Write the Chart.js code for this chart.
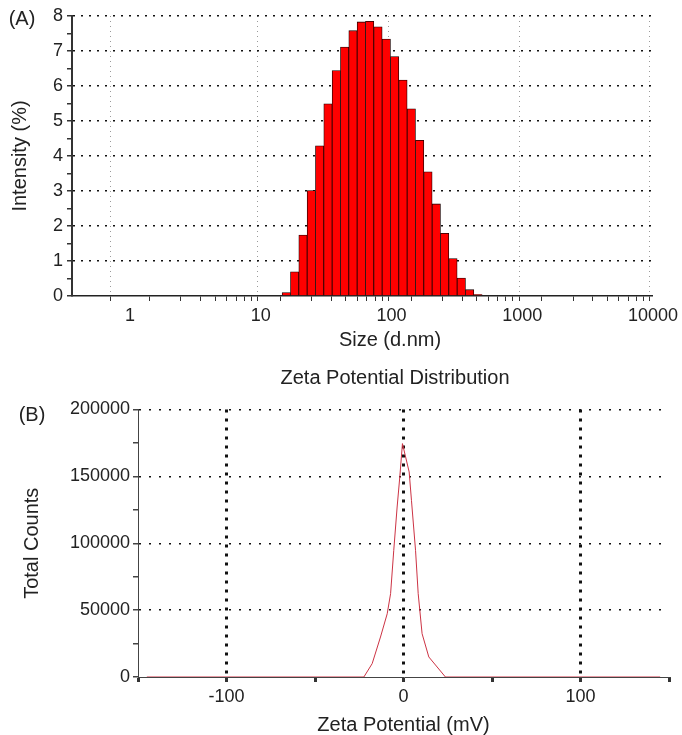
<!DOCTYPE html>
<html>
<head>
<meta charset="utf-8">
<script src="https://cdn.jsdelivr.net/npm/chart.js@4.4.0/dist/chart.umd.min.js"></script>
<style>
  body { margin: 0; background: #fff; overflow: hidden; }
  canvas { position: absolute; left: 0; }
</style>
</head>
<body>
<canvas id="chartA" width="682" height="356" style="top:0"></canvas>
<canvas id="chartB" width="682" height="390" style="top:352px"></canvas>
<script>
// (A) size distribution by intensity
var sizes = [15.69, 18.17, 21.04, 24.36, 28.21, 32.67, 37.84, 43.82, 50.75, 58.77, 68.06, 78.82,
             91.28, 105.7, 122.4, 141.8, 164.2, 190.1, 220.2, 255.0, 295.3, 342.0, 396.1, 458.7];
var intensity = [0.1, 0.69, 1.74, 3.01, 4.29, 5.49, 6.44, 7.11, 7.58, 7.83, 7.85, 7.69,
                 7.34, 6.84, 6.17, 5.35, 4.45, 3.55, 2.63, 1.79, 1.07, 0.51, 0.18, 0.04];
var sizeLabels = [1, 10, 100, 1000, 10000];
var sizeTicks = [];
[1, 10, 100, 1000].forEach(function (d) {
  for (var k = 1; k < 10; k++) sizeTicks.push(k * d);
});
sizeTicks.push(10000);

// (B) zeta potential distribution
var zeta = [-145, -22.4, -17.7, -13.0, -9.2, -7.3, -5.5, -3.6, -2.1, -0.6, 3.2, 4.5, 6.8, 8.3, 10.5, 14.3, 23.7, 145];
var counts = [0, 0, 10000, 29900, 47300, 62300, 94700, 127100, 149500, 174500, 153300, 132100, 94700, 62300, 32400, 15000, 0, 0];
var zetaLabels = [-100, 0, 100];

var FONT = '"Liberation Sans", Arial, sans-serif';
var tickFont = { family: FONT, size: 18 };
var titleFont = { family: FONT, size: 20 };
var TXT = '#222';

// draws free text such as panel letters and titles
var textPlugin = {
  id: 'texts',
  afterDraw: function (chart) {
    var items = chart.options.plugins.texts.items || [];
    var ctx = chart.ctx;
    ctx.save();
    ctx.fillStyle = TXT;
    ctx.textAlign = 'center';
    ctx.textBaseline = 'middle';
    items.forEach(function (it) {
      ctx.font = it.size + 'px ' + FONT;
      ctx.fillText(it.text, it.x, it.y);
    });
    ctx.restore();
  }
};

new Chart(document.getElementById('chartA'), {
  type: 'bar',
  data: {
    datasets: [{
      data: sizes.map(function (s, i) { return { x: s, y: intensity[i] }; }),
      backgroundColor: '#ff0000',
      borderColor: '#1a0000',
      borderWidth: 0.8,
      barThickness: 'flex',
      barPercentage: 1,
      categoryPercentage: 1
    }]
  },
  options: {
    responsive: false,
    animation: false,
    layout: { padding: { top: 16, right: 23, left: 0, bottom: 0 } },
    plugins: {
      legend: { display: false },
      tooltip: { enabled: false },
      texts: {
        items: [
          { text: '(A)', x: 22, y: 19, size: 20 },
          { text: 'Size (d.nm)', x: 390, y: 340, size: 20 }
        ]
      }
    },
    scales: {
      x: {
        type: 'logarithmic',
        min: 0.36,
        max: 10000,
        afterBuildTicks: function (s) {
          s.ticks = sizeTicks.map(function (v) { return { value: v }; });
        },
        afterFit: function (s) { s.height = 60; },
        ticks: {
          autoSkip: false, maxRotation: 0, padding: 4, color: TXT, font: tickFont,
          callback: function (v) { return sizeLabels.indexOf(v) >= 0 ? String(v) : ''; }
        },
        grid: {
          color: function (c) { return c.tick && sizeLabels.indexOf(c.tick.value) >= 0 ? '#9a9a9a' : 'rgba(0,0,0,0)'; },
          lineWidth: 1,
          tickLength: 5,
          tickColor: '#333'
        },
        border: { color: '#222', width: 1.5, dash: [1, 4] }
      },
      y: {
        min: 0,
        max: 8,
        afterFit: function (s) { s.width = 72; },
        ticks: {
          stepSize: 0.5, autoSkip: false, padding: 4, color: TXT, font: tickFont,
          callback: function (v) { return Number.isInteger(v) ? String(v) : ''; }
        },
        grid: {
          color: function (c) { return c.tick && c.tick.value > 0 && Number.isInteger(c.tick.value) ? '#111' : 'rgba(0,0,0,0)'; },
          lineWidth: 1.5,
          tickLength: 5,
          tickColor: '#333'
        },
        border: { color: '#333', width: 2, dash: [2, 6] },
        title: { display: true, text: 'Intensity (%)', color: TXT, font: titleFont, padding: { top: 8, bottom: 0 } }
      }
    }
  },
  plugins: [textPlugin]
});

new Chart(document.getElementById('chartB'), {
  type: 'line',
  data: {
    datasets: [{
      data: zeta.map(function (z, i) { return { x: z, y: counts[i] }; }),
      borderColor: '#cc3344',
      borderWidth: 1,
      pointRadius: 0,
      tension: 0,
      fill: false
    }]
  },
  options: {
    responsive: false,
    animation: false,
    layout: { padding: { top: 57.5, right: 13, left: 0, bottom: 0 } },
    plugins: {
      legend: { display: false },
      tooltip: { enabled: false },
      texts: {
        items: [
          { text: 'Zeta Potential Distribution', x: 395, y: 26, size: 20 },
          { text: '(B)', x: 32, y: 63, size: 20 }
        ]
      }
    },
    scales: {
      x: {
        type: 'linear',
        min: -150,
        max: 150,
        afterFit: function (s) { s.height = 65; },
        ticks: {
          stepSize: 50, autoSkip: false, maxRotation: 0, padding: 4, color: TXT, font: tickFont,
          callback: function (v) { return zetaLabels.indexOf(v) >= 0 ? String(v) : ''; }
        },
        grid: {
          color: function (c) { return c.tick && zetaLabels.indexOf(c.tick.value) >= 0 ? '#111' : 'rgba(0,0,0,0)'; },
          lineWidth: 3,
          tickLength: 5,
          tickColor: '#333'
        },
        border: { color: '#444', width: 1, dash: [3, 6] },
        title: { display: true, text: 'Zeta Potential (mV)', color: TXT, font: titleFont, padding: { top: 0, bottom: 5 } }
      },
      y: {
        min: 0,
        max: 200000,
        afterFit: function (s) { s.width = 138; },
        ticks: {
          stepSize: 25000, autoSkip: false, padding: 3, color: TXT, font: tickFont,
          callback: function (v) { return v % 50000 === 0 ? String(v) : ''; }
        },
        grid: {
          color: function (c) { return c.tick && c.tick.value > 0 && c.tick.value % 50000 === 0 ? '#111' : 'rgba(0,0,0,0)'; },
          lineWidth: 1.5,
          tickLength: 5,
          tickColor: '#444'
        },
        border: { color: '#444', width: 1, dash: [2, 8] },
        title: { display: true, text: 'Total Counts', color: TXT, font: titleFont, padding: { top: 20, bottom: 0 } }
      }
    }
  },
  plugins: [textPlugin]
});
</script>
</body>
</html>
